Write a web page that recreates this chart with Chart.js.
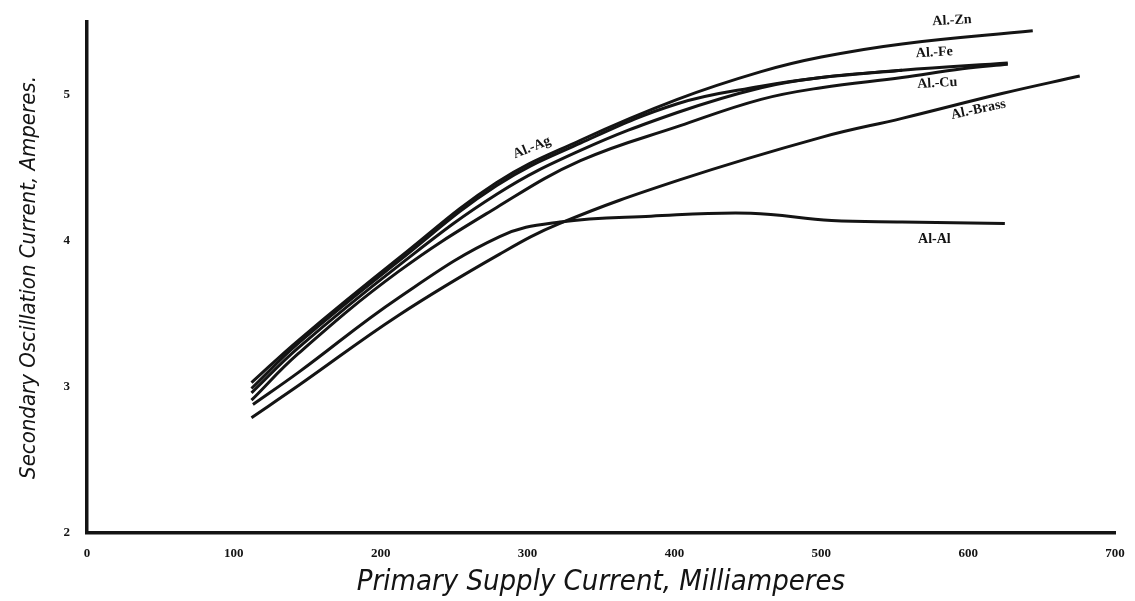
<!DOCTYPE html>
<html>
<head>
<meta charset="utf-8">
<title>Secondary Oscillation Current vs Primary Supply Current</title>
<script src="https://cdn.jsdelivr.net/npm/chart.js@4/dist/chart.umd.min.js"></script>
<style>
  html, body { margin: 0; padding: 0; background: #fff; }
  #wrap { width: 1135px; height: 601px; position: relative; }
</style>
</head>
<body>
<div id="wrap"><canvas id="chart" width="1135" height="601"></canvas></div>
<script>
// Data (x = primary current mA, y = secondary current A)
const znX = [112, 144, 212, 279, 336, 402, 459, 500, 555, 644];
const znY = [3.03, 3.32, 3.88, 4.40, 4.69, 4.97, 5.16, 5.26, 5.35, 5.44];

const agX = [112, 144, 212, 279, 336, 402, 459, 500, 555];
const agY = [2.99, 3.30, 3.86, 4.38, 4.67, 4.94, 5.06, 5.12, 5.17];

const feX = [112, 144, 212, 279, 336, 402, 459, 500, 555, 627];
const feY = [2.96, 3.27, 3.83, 4.32, 4.62, 4.88, 5.05, 5.12, 5.17, 5.22];

const cuX = [112, 144, 212, 279, 336, 404, 459, 500, 555, 596, 627];
const cuY = [2.91, 3.23, 3.79, 4.23, 4.55, 4.79, 4.97, 5.05, 5.12, 5.18, 5.21];

const brassX = [112, 144, 212, 281, 322, 404, 500, 555, 623, 676];
const brassY = [2.79, 3.01, 3.49, 3.91, 4.12, 4.42, 4.71, 4.84, 5.01, 5.13];

const alX = [113, 144, 212, 281, 322, 384, 452, 507, 555, 625];
const alY = [2.88, 3.10, 3.61, 4.03, 4.13, 4.17, 4.19, 4.14, 4.13, 4.12];

const seriesNames = ['Al.-Zn', 'Al.-Ag', 'Al.-Fe', 'Al.-Cu', 'Al.-Brass', 'Al-Al'];
const xTicks = [0, 100, 200, 300, 400, 500, 600, 700];
const yTicks = [2, 3, 4, 5];

const INK = '#141414';

function toPoints(xs, ys) {
    return xs.map((x, i) => ({ x: x, y: ys[i] }));
}

const seriesData = [
    toPoints(znX, znY),
    toPoints(agX, agY),
    toPoints(feX, feY),
    toPoints(cuX, cuY),
    toPoints(brassX, brassY),
    toPoints(alX, alY)
];

// where each curve's hand-written name sits (data coords) and its tilt
const curveLabels = [
    { text: 'Al.-Zn', x: 589, y: 5.51, rot: -3 },
    { text: 'Al.-Fe', x: 577, y: 5.29, rot: -3 },
    { text: 'Al.-Cu', x: 579, y: 5.08, rot: -3 },
    { text: 'Al.-Brass', x: 607, y: 4.90, rot: -12 },
    { text: 'Al.-Ag', x: 303, y: 4.64, rot: -22 },
    { text: 'Al-Al', x: 577, y: 4.01, rot: 0 }
];

const labelPlugin = {
    id: 'curveLabels',
    afterDatasetsDraw(chart) {
        const ctx = chart.ctx;
        const xs = chart.scales.x;
        const ys = chart.scales.y;
        ctx.save();
        ctx.fillStyle = INK;
        ctx.font = 'bold 14px "Liberation Serif", serif';
        ctx.textAlign = 'center';
        ctx.textBaseline = 'middle';
        curveLabels.forEach(lb => {
            ctx.save();
            ctx.translate(xs.getPixelForValue(lb.x), ys.getPixelForValue(lb.y));
            ctx.rotate(lb.rot * Math.PI / 180);
            ctx.fillText(lb.text, 0, 0);
            ctx.restore();
        });
        ctx.restore();
    }
};

const ctx = document.getElementById('chart').getContext('2d');
new Chart(ctx, {
    type: 'line',
    data: {
        datasets: seriesData.map((pts, i) => ({
            label: seriesNames[i],
            data: pts,
            borderColor: INK,
            borderWidth: 3,
            pointRadius: 0,
            fill: false,
            tension: 0.4
        }))
    },
    options: {
        responsive: false,
        animation: false,
        layout: { padding: { top: 22, right: 20, left: 0, bottom: 0 } },
        plugins: {
            legend: { display: false },
            tooltip: { enabled: false }
        },
        scales: {
            x: {
                type: 'linear',
                min: 0,
                max: 700,
                afterBuildTicks: s => { s.ticks = xTicks.map(v => ({ value: v })); },
                afterFit: s => { s.height = 68; },
                grid: { display: false },
                border: { display: true, color: INK, width: 3.5 },
                ticks: {
                    color: INK,
                    padding: 5,
                    maxRotation: 0,
                    font: { family: '"Liberation Serif", serif', size: 13, weight: 'bold' }
                },
                title: {
                    display: true,
                    text: 'Primary Supply Current, Milliamperes',
                    color: INK,
                    padding: { top: 0, bottom: 1 },
                    font: { family: '"DejaVu Sans Condensed", "DejaVu Sans", sans-serif', size: 29, style: 'italic' }
                }
            },
            y: {
                type: 'linear',
                min: 2,
                max: 5.5,
                afterBuildTicks: s => { s.ticks = yTicks.map(v => ({ value: v })); },
                afterFit: s => { s.width = 87; },
                grid: { display: false },
                border: { display: true, color: INK, width: 3.5 },
                ticks: {
                    color: INK,
                    padding: 9,
                    font: { family: '"Liberation Serif", serif', size: 13, weight: 'bold' }
                },
                title: {
                    display: true,
                    text: 'Secondary Oscillation Current, Amperes.',
                    color: INK,
                    padding: { top: 16, bottom: 0 },
                    font: { family: '"DejaVu Sans Condensed", "DejaVu Sans", sans-serif', size: 22, style: 'italic' }
                }
            }
        }
    },
    plugins: [labelPlugin]
});
</script>
</body>
</html>
